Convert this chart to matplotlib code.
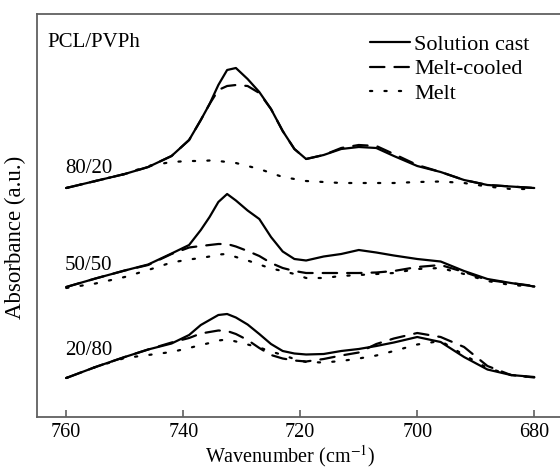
import numpy as np
import matplotlib
matplotlib.use('Agg')
import matplotlib.pyplot as plt

plt.rcParams['font.family'] = ['Liberation Serif', 'DejaVu Serif']
plt.rcParams['mathtext.fontset'] = 'stix'

# wavenumber grid (cm-1)
wn = [760, 755, 750, 746, 742, 739, 737, 735.5, 734, 732.5, 731, 729, 727, 725,
      723, 721, 719, 716, 713, 710, 707, 704, 700, 696, 692, 688, 684, 680]

# 80/20 (stacked, a.u.)
top_cast = [2.29, 2.36, 2.43, 2.50, 2.61, 2.77, 2.97, 3.13, 3.32, 3.47, 3.49, 3.38, 3.25, 3.08,
            2.86, 2.68, 2.58, 2.62, 2.68, 2.70, 2.69, 2.61, 2.51, 2.45, 2.37, 2.32, 2.305, 2.29]
top_cooled = [2.29, 2.36, 2.43, 2.50, 2.61, 2.77, 2.97, 3.13, 3.27, 3.31, 3.32, 3.31, 3.24, 3.08,
              2.86, 2.68, 2.58, 2.62, 2.69, 2.72, 2.71, 2.63, 2.52, 2.45, 2.37, 2.32, 2.305, 2.29]
top_melt = [2.29, 2.36, 2.43, 2.51, 2.55, 2.56, 2.56, 2.565, 2.56, 2.55, 2.54, 2.51, 2.48, 2.44,
            2.40, 2.38, 2.36, 2.35, 2.34, 2.34, 2.34, 2.34, 2.35, 2.355, 2.34, 2.305, 2.28, 2.28]

# 50/50
mid_cast = [1.30, 1.385, 1.465, 1.525, 1.635, 1.72, 1.87, 2.00, 2.15, 2.23, 2.165, 2.065, 1.98, 1.80,
            1.655, 1.58, 1.565, 1.605, 1.63, 1.67, 1.645, 1.615, 1.58, 1.555, 1.46, 1.38, 1.34, 1.305]
mid_cooled = [1.30, 1.385, 1.465, 1.52, 1.63, 1.695, 1.71, 1.72, 1.73, 1.73, 1.705, 1.66, 1.61, 1.54,
              1.49, 1.46, 1.44, 1.44, 1.44, 1.44, 1.445, 1.46, 1.50, 1.52, 1.45, 1.37, 1.34, 1.31]
mid_melt = [1.29, 1.335, 1.40, 1.47, 1.545, 1.575, 1.59, 1.605, 1.625, 1.63, 1.60, 1.565, 1.525, 1.485,
            1.46, 1.43, 1.39, 1.39, 1.41, 1.42, 1.43, 1.44, 1.48, 1.49, 1.43, 1.36, 1.32, 1.305]

# 20/80
bot_cast = [0.39, 0.50, 0.60, 0.675, 0.735, 0.82, 0.92, 0.97, 1.02, 1.03, 0.995, 0.925, 0.83, 0.73,
            0.66, 0.635, 0.625, 0.63, 0.66, 0.68, 0.71, 0.745, 0.80, 0.75, 0.60, 0.475, 0.42, 0.40]
bot_cooled = [0.39, 0.50, 0.60, 0.675, 0.745, 0.79, 0.835, 0.85, 0.865, 0.86, 0.83, 0.77, 0.69, 0.62,
              0.585, 0.565, 0.555, 0.58, 0.615, 0.645, 0.73, 0.785, 0.84, 0.80, 0.70, 0.51, 0.42, 0.395]
bot_melt = [0.39, 0.50, 0.59, 0.62, 0.65, 0.69, 0.72, 0.74, 0.765, 0.775, 0.755, 0.725, 0.695, 0.655,
            0.62, 0.58, 0.55, 0.545, 0.56, 0.585, 0.615, 0.66, 0.725, 0.76, 0.62, 0.49, 0.42, 0.395]

blend_labels = ['80/20', '50/50', '20/80']
blend_label_y = [2.44, 1.47, 0.62]
series_names = ['Solution cast', 'Melt-cooled', 'Melt']
x_ticks = [760, 740, 720, 700, 680]

fig = plt.figure(figsize=(5.6, 4.75), dpi=100)
ax = fig.add_axes([37/560, 58/475, 526.5/560, 403/475])

lw = 1.6
styles = ['-', (0, (6.5, 4.5)), (0, (1, 5.5))]
groups = [(top_cast, top_cooled, top_melt),
          (mid_cast, mid_cooled, mid_melt),
          (bot_cast, bot_cooled, bot_melt)]
for g, grp in enumerate(groups):
    for k, ys in enumerate(grp):
        ax.plot(wn, ys, color='black', lw=lw, linestyle=styles[k],
                dash_capstyle='round', solid_capstyle='round',
                solid_joinstyle='round',
                label=series_names[k] if g == 0 else None)

for lab, yy in zip(blend_labels, blend_label_y):
    ax.text(760.2, yy, lab, fontsize=15, ha='left', va='baseline')

ax.text(0.019, 0.918, 'PCL/PVPh', transform=ax.transAxes, fontsize=15,
        ha='left', va='baseline')

leg = ax.legend(loc='upper left', bbox_to_anchor=(0.632, 0.949), frameon=False,
                fontsize=16, handlelength=1.8, handletextpad=0.2,
                labelspacing=0.17, borderpad=0, borderaxespad=0)

ax.set_xlim(765, 675)
ax.set_ylim(0, 4.03)
ax.set_xticks(x_ticks)
ax.set_yticks([])
ax.tick_params(axis='x', direction='in', length=5, width=1.2, color='#606060',
               labelsize=14.5, pad=4)
for s in ax.spines.values():
    s.set_color('#606060')
    s.set_linewidth(1.3)

ax.set_xlabel(r'Wavenumber (cm$^{-1}$)', fontsize=14.5)
ax.set_ylabel('Absorbance (a.u.)', fontsize=16.5)
ax.xaxis.set_label_coords(0.48, -0.064)
ax.yaxis.set_label_coords(-0.02, 0.445)

fig.savefig('out.png', dpi=100)
